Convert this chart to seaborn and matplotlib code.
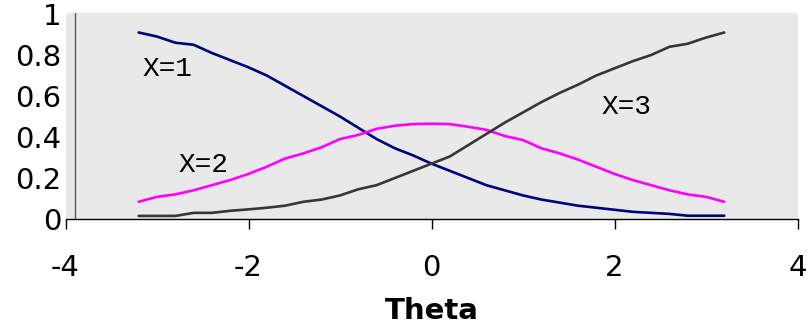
import pandas as pd
import seaborn as sns
import matplotlib.pyplot as plt
from matplotlib.ticker import FuncFormatter

# Theta grid of the category response curves
theta = [-3.2, -3.0, -2.8, -2.6, -2.4, -2.2, -2.0, -1.8, -1.6, -1.4, -1.2,
         -1.0, -0.8, -0.6, -0.4, -0.2, 0.0, 0.2, 0.4, 0.6, 0.8, 1.0,
         1.2, 1.4, 1.6, 1.8, 2.0, 2.2, 2.4, 2.6, 2.8, 3.0, 3.2]

p_x1 = [0.91, 0.89, 0.86, 0.85, 0.81, 0.775, 0.74, 0.70, 0.65, 0.60, 0.55,
        0.50, 0.445, 0.39, 0.345, 0.31, 0.27, 0.235, 0.20, 0.165, 0.14, 0.115,
        0.095, 0.08, 0.065, 0.055, 0.045, 0.035, 0.03, 0.025, 0.016, 0.016, 0.016]

p_x2 = [0.084, 0.108, 0.12, 0.14, 0.165, 0.19, 0.22, 0.255, 0.295, 0.32, 0.35,
        0.39, 0.41, 0.44, 0.455, 0.463, 0.465, 0.463, 0.45, 0.435, 0.405, 0.385,
        0.345, 0.32, 0.29, 0.255, 0.22, 0.19, 0.165, 0.14, 0.12, 0.108, 0.084]

p_x3 = [0.015, 0.015, 0.015, 0.03, 0.03, 0.04, 0.047, 0.055, 0.065, 0.084, 0.095,
        0.115, 0.145, 0.165, 0.20, 0.235, 0.27, 0.305, 0.36, 0.415, 0.47, 0.52,
        0.57, 0.615, 0.655, 0.70, 0.735, 0.77, 0.80, 0.84, 0.855, 0.885, 0.91]

categories = ['X=1', 'X=2', 'X=3']
colors = ['#000080', '#ff00ff', '#363636']
label_pos = [(-3.16, 0.70), (-2.76, 0.231), (1.86, 0.511)]

n = len(theta)
df = pd.DataFrame({
    'Theta': theta * 3,
    'p': p_x1 + p_x2 + p_x3,
    'cat': [c for c in categories for _ in range(n)],
})

sns.set_style('white', {'axes.facecolor': '#e9e9e9'})
plt.rcParams['font.family'] = ['DejaVu Sans']
plt.rcParams['axes.unicode_minus'] = False

W, H = 808, 329
fig = plt.figure(figsize=(W / 100, H / 100), dpi=100)
ax = fig.add_axes([65.5 / W, 1 - 219 / H, (797.5 - 65.5) / W, (219 - 13) / H])

sns.lineplot(data=df, x='Theta', y='p', hue='cat', palette=colors,
             linewidth=1.9, legend=False, ax=ax)

# value axis drawn slightly inside the plot area, like the original
ax.axvline(-3.9, color='#555555', lw=1.0, zorder=1)

for cat, (tx, ty) in zip(categories, label_pos):
    ax.text(tx, ty, cat, family=['Liberation Mono', 'DejaVu Sans Mono'],
            fontsize=20, color='black', ha='left', va='baseline')

ax.set_xlim(-4, 4)
ax.set_ylim(0, 1.005)
ax.set_xticks([-4, -2, 0, 2, 4])
ax.set_yticks([0, 0.2, 0.4, 0.6, 0.8, 1.0])
ax.yaxis.set_major_formatter(FuncFormatter(lambda v, _: '%g' % v))

for s in ['top', 'right', 'left']:
    ax.spines[s].set_visible(False)
ax.spines['bottom'].set_color('black')
ax.spines['bottom'].set_linewidth(1.0)

ax.tick_params(axis='x', direction='out', length=7, width=1, color='black',
               pad=18, labelsize=21, labelcolor='black', bottom=True)
ax.tick_params(axis='y', length=0, pad=3, labelsize=21, labelcolor='black')

ax.set_xlabel('Theta', fontsize=21, fontweight='bold', color='black', labelpad=11)
ax.set_ylabel('')

fig.savefig('out.png', dpi=100)
